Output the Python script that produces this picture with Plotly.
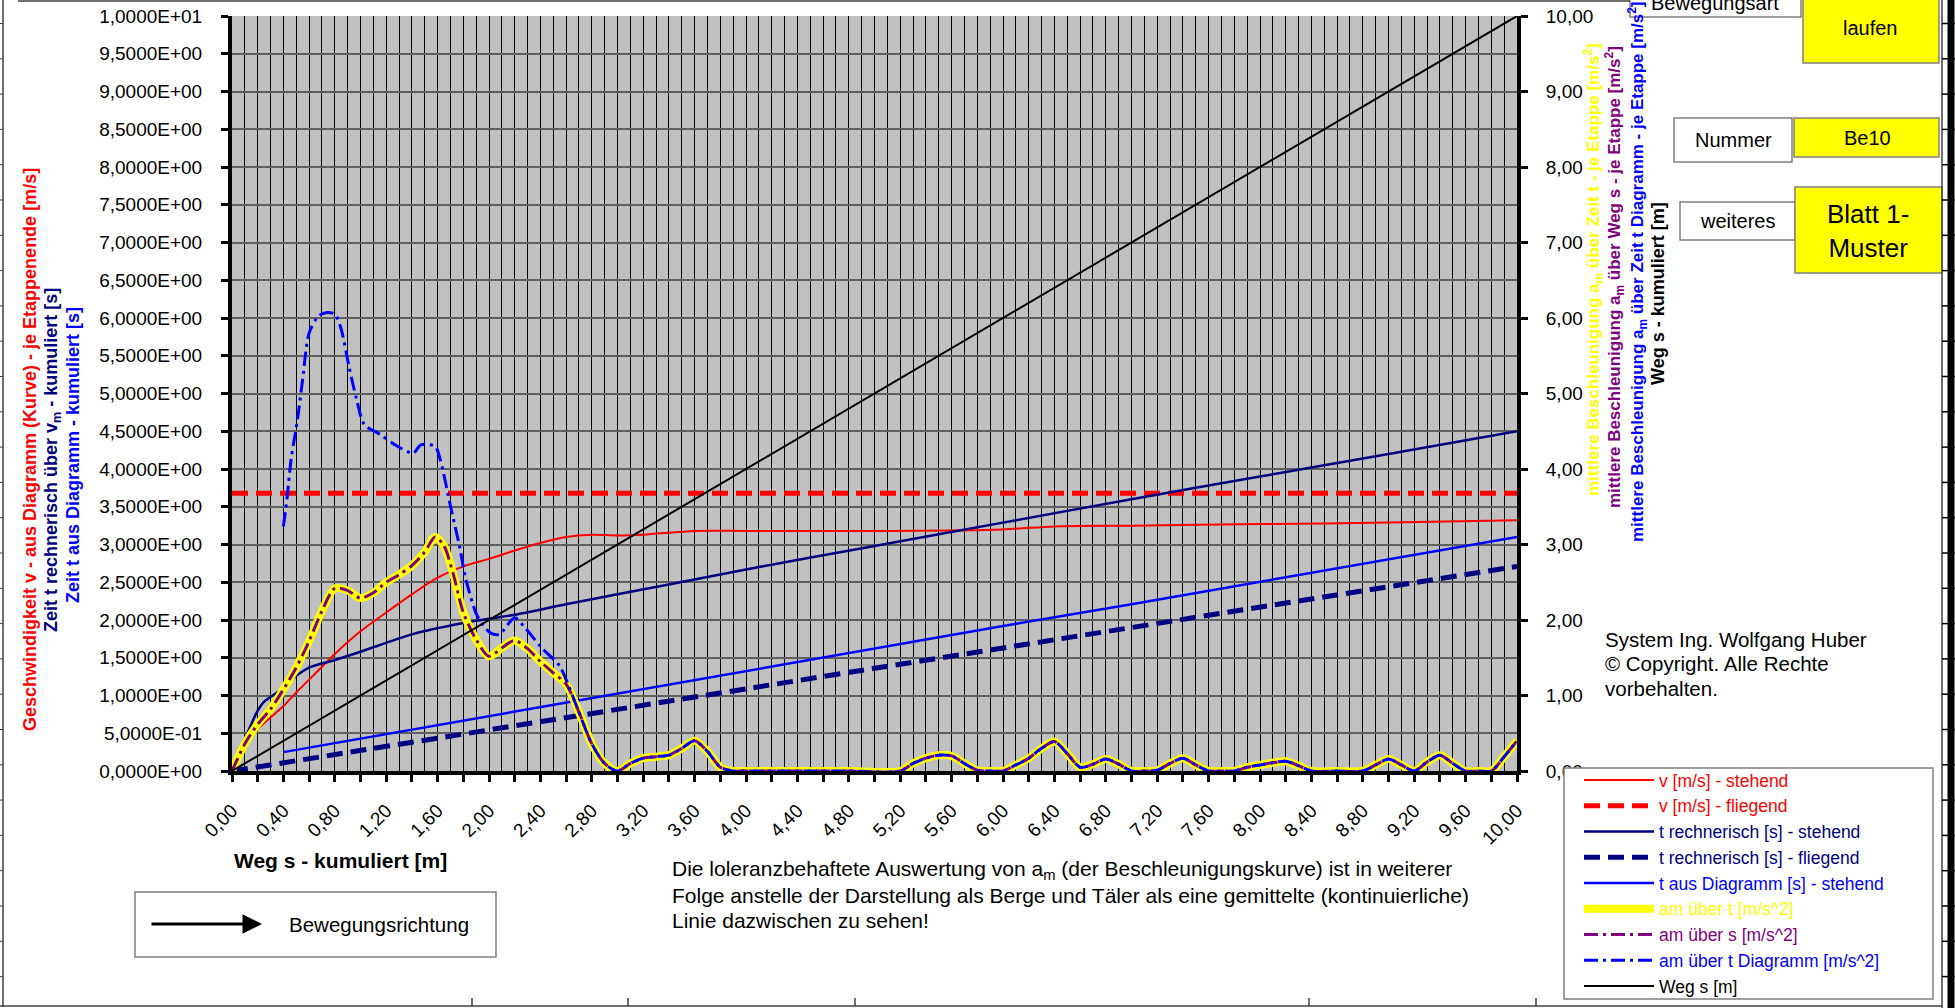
import plotly.graph_objects as go

# ---------------- data ----------------
v_stehend_x = [0, 0.1, 0.2, 0.3, 0.4, 0.5, 0.6, 0.7, 0.8, 1.0, 1.2, 1.4, 1.6, 1.8, 2.0, 2.2, 2.4,
               2.6, 2.8, 3.0, 3.2, 3.6, 4.0, 5.0, 6.0, 6.4, 7.0, 8.0, 9.0, 10.0]
v_stehend_y = [0, 0.40, 0.56, 0.71, 0.86, 1.04, 1.21, 1.38, 1.55, 1.85, 2.10, 2.34, 2.56, 2.71, 2.81,
               2.92, 3.02, 3.10, 3.13, 3.12, 3.13, 3.18, 3.18, 3.18, 3.20, 3.24, 3.25, 3.27, 3.29, 3.32]

v_fliegend_x = [0, 10]
v_fliegend_y = [3.68, 3.68]

t_rech_stehend_x = [0, 0.05, 0.1, 0.15, 0.2, 0.25, 0.3, 0.4, 0.5, 0.6, 0.8, 1.0, 1.4, 1.8, 2.2, 2.6,
                    3.0, 3.4, 4.0, 5.0, 6.0, 7.0, 8.0, 9.0, 10.0]
t_rech_stehend_y = [0, 0.20, 0.42, 0.62, 0.80, 0.92, 0.98, 1.10, 1.26, 1.37, 1.47, 1.58, 1.81, 1.96,
                    2.07, 2.21, 2.34, 2.47, 2.67, 2.98, 3.29, 3.60, 3.90, 4.20, 4.50]

t_rech_fliegend_x = [0, 0.4, 1, 2, 3, 4, 5, 6, 7, 8, 9, 10]
t_rech_fliegend_y = [0, 0.11, 0.27, 0.54, 0.82, 1.09, 1.36, 1.63, 1.90, 2.17, 2.44, 2.71]

t_diag_stehend_x = [0.4, 1, 2, 3, 4, 5, 6, 7, 8, 9, 10]
t_diag_stehend_y = [0.25, 0.43, 0.73, 1.02, 1.32, 1.62, 1.92, 2.21, 2.51, 2.81, 3.10]

am_t_x = [0, 0.1, 0.2, 0.3, 0.4, 0.5, 0.6, 0.7, 0.8, 0.9, 1.0, 1.1, 1.2, 1.3, 1.4, 1.5, 1.58, 1.65,
          1.72, 1.8, 1.9, 2.0, 2.1, 2.2, 2.3, 2.4, 2.5, 2.6, 2.7, 2.8, 2.9, 3.0, 3.1, 3.2, 3.3, 3.4,
          3.5, 3.6, 3.7, 3.8, 3.9, 4.0, 4.4, 4.8, 5.2, 5.3, 5.4, 5.5, 5.6, 5.7, 5.8, 5.9, 6.0, 6.1,
          6.2, 6.3, 6.4, 6.5, 6.6, 6.7, 6.8, 6.9, 7.0, 7.1, 7.2, 7.3, 7.4, 7.5, 7.6, 7.7, 7.8, 7.9,
          8.0, 8.1, 8.2, 8.3, 8.4, 8.6, 8.8, 8.9, 9.0, 9.1, 9.2, 9.3, 9.4, 9.5, 9.6, 9.7, 9.8, 9.9,
          10.0]
am_t_y = [0, 0.36, 0.62, 0.82, 1.08, 1.37, 1.72, 2.12, 2.42, 2.39, 2.29, 2.36, 2.50, 2.60, 2.72,
          2.90, 3.10, 2.98, 2.62, 2.10, 1.74, 1.52, 1.63, 1.73, 1.62, 1.45, 1.30, 1.15, 0.78, 0.36,
          0.10, 0.0, 0.10, 0.17, 0.19, 0.21, 0.30, 0.40, 0.26, 0.05, 0.0, 0.0, 0.0, 0.0, 0.0, 0.10,
          0.17, 0.21, 0.20, 0.10, 0.01, 0.0, 0.0, 0.08, 0.17, 0.30, 0.39, 0.23, 0.05, 0.09, 0.16,
          0.09, 0.0, 0.0, 0.01, 0.10, 0.17, 0.08, 0.0, 0.0, 0.0, 0.05, 0.08, 0.11, 0.13, 0.07, 0.0,
          0.0, 0.0, 0.08, 0.16, 0.08, 0.0, 0.12, 0.21, 0.10, 0.0, 0.0, 0.0, 0.19, 0.40]

am_s_x = list(am_t_x)
am_s_y = list(am_t_y)

am_diag_head_x = [0.4, 0.43, 0.46, 0.51, 0.55, 0.6, 0.67, 0.73, 0.8, 0.85, 0.91, 0.97, 1.03, 1.15,
                  1.27, 1.41, 1.47, 1.58, 1.62, 1.70, 1.77, 1.82, 1.91, 2.01, 2.08, 2.2, 2.27, 2.4,
                  2.55, 2.6]
am_diag_head_y = [3.24, 3.64, 4.13, 4.66, 5.19, 5.80, 6.02, 6.07, 6.05, 5.85, 5.36, 4.92, 4.59, 4.46,
                  4.32, 4.21, 4.32, 4.30, 4.13, 3.51, 2.98, 2.54, 2.05, 1.83, 1.81, 2.03, 1.92, 1.65,
                  1.39, 1.21]
am_diag_x = am_diag_head_x + [x for x in am_t_x if x >= 2.7]
am_diag_y = am_diag_head_y + [y for x, y in zip(am_t_x, am_t_y) if x >= 2.7]

weg_x = [0, 10]
weg_y = [0, 10]

x_tick_labels = ["0,00", "0,40", "0,80", "1,20", "1,60", "2,00", "2,40", "2,80", "3,20", "3,60",
                 "4,00", "4,40", "4,80", "5,20", "5,60", "6,00", "6,40", "6,80", "7,20", "7,60",
                 "8,00", "8,40", "8,80", "9,20", "9,60", "10,00"]
y_left_labels = ["0,0000E+00", "5,0000E-01", "1,0000E+00", "1,5000E+00", "2,0000E+00", "2,5000E+00",
                 "3,0000E+00", "3,5000E+00", "4,0000E+00", "4,5000E+00", "5,0000E+00", "5,5000E+00",
                 "6,0000E+00", "6,5000E+00", "7,0000E+00", "7,5000E+00", "8,0000E+00", "8,5000E+00",
                 "9,0000E+00", "9,5000E+00", "1,0000E+01"]
y_right_labels = ["0,00", "1,00", "2,00", "3,00", "4,00", "5,00", "6,00", "7,00", "8,00", "9,00",
                  "10,00"]

# ---------------- geometry helpers ----------------
W, H = 1955, 1008
L, R, T, B = 232, 1517, 16, 771
PW, PH = R - L, B - T


def fx(px):
    return (px - L) / PW


def fy(py):
    return (B - py) / PH


FONT = "Liberation Sans, Arial, sans-serif"

RED, NAVY, BLUE, YEL, PUR = "#FF0000", "#000080", "#0000FF", "#FFFF00", "#800080"
DASHDOT = "14px,5px,3px,5px"


def nm(t, c):
    return f'<span style="color:{c}">{t}</span>'


fig = go.Figure()
fig.add_trace(go.Scatter(x=v_stehend_x, y=v_stehend_y, mode="lines", name=nm("v [m/s] - stehend", RED),
                         line=dict(color=RED, width=2, shape="spline", smoothing=0.8)))
fig.add_trace(go.Scatter(x=v_fliegend_x, y=v_fliegend_y, mode="lines", name=nm("v [m/s] - fliegend", RED),
                         line=dict(color=RED, width=5, dash="16px,8px")))
fig.add_trace(go.Scatter(x=t_rech_stehend_x, y=t_rech_stehend_y, mode="lines",
                         name=nm("t rechnerisch [s] - stehend", NAVY),
                         line=dict(color=NAVY, width=2.5, shape="spline", smoothing=0.8)))
fig.add_trace(go.Scatter(x=t_rech_fliegend_x, y=t_rech_fliegend_y, mode="lines",
                         name=nm("t rechnerisch [s] - fliegend", NAVY),
                         line=dict(color=NAVY, width=5, dash="16px,8px")))
fig.add_trace(go.Scatter(x=t_diag_stehend_x, y=t_diag_stehend_y, mode="lines",
                         name=nm("t aus Diagramm [s] - stehend", BLUE),
                         line=dict(color=BLUE, width=2.5)))
fig.add_trace(go.Scatter(x=am_t_x, y=am_t_y, mode="lines", name=nm("am über t [m/s^2]", YEL),
                         line=dict(color=YEL, width=8, shape="spline", smoothing=0.8)))
fig.add_trace(go.Scatter(x=am_s_x, y=am_s_y, mode="lines", name=nm("am über s [m/s^2]", PUR),
                         line=dict(color=PUR, width=3, dash=DASHDOT, shape="spline", smoothing=0.8)))
fig.add_trace(go.Scatter(x=am_diag_x, y=am_diag_y, mode="lines",
                         name=nm("am über t Diagramm [m/s^2]", BLUE),
                         line=dict(color=BLUE, width=3, dash=DASHDOT, shape="spline", smoothing=0.8)))
fig.add_trace(go.Scatter(x=weg_x, y=weg_y, mode="lines", name=nm("Weg s [m]", "#000000"),
                         line=dict(color="#000000", width=2)))
# carrier for the right axis
fig.add_trace(go.Scatter(x=[0], y=[0], yaxis="y2", mode="markers", marker=dict(opacity=0),
                         showlegend=False, hoverinfo="skip"))

# ticks every 0.2, labels every 0.4
x_tickvals = [i * 0.2 for i in range(51)]
x_ticktext = []
for i in range(51):
    x_ticktext.append(x_tick_labels[i // 2] if i % 2 == 0 else "")

fig.update_layout(
    width=W, height=H,
    margin=dict(l=L, r=W - R, t=T, b=H - B, pad=0, autoexpand=False),
    paper_bgcolor="white", plot_bgcolor="#C0C0C0",
    font=dict(family=FONT, size=19, color="black"),
    showlegend=True,
    xaxis=dict(range=[0, 10], tickmode="array", tickvals=x_tickvals, ticktext=x_ticktext,
               tickangle=-45, ticks="outside", ticklen=7, tickwidth=3, tickcolor="black",
               showline=True, linewidth=4, linecolor="black", zeroline=False,
               showgrid=True, gridcolor="#000000", gridwidth=1,
               minor=dict(tickmode="linear", tick0=0, dtick=0.1, showgrid=True,
                          gridcolor="#000000", gridwidth=1, ticks=""),
               ticklabelstandoff=10, tickfont=dict(size=19), automargin=False),
    yaxis=dict(range=[0, 10], tickmode="array", tickvals=[i * 0.5 for i in range(21)],
               ticktext=y_left_labels, ticks="outside", ticklen=7, tickwidth=3, tickcolor="black",
               showline=True, linewidth=4, linecolor="black", zeroline=False,
               showgrid=True, gridcolor="#606060", gridwidth=1.5,
               ticklabelstandoff=15, tickfont=dict(size=19), automargin=False),
    yaxis2=dict(range=[0, 10], overlaying="y", side="right", anchor="x", tickmode="array",
                tickvals=list(range(11)), ticktext=y_right_labels, ticks="outside", ticklen=7,
                tickwidth=3, tickcolor="black", showline=True, linewidth=4, linecolor="black",
                showgrid=False, zeroline=False, ticklabelstandoff=14, tickfont=dict(size=19),
                automargin=False),
    legend=dict(x=fx(1579), y=fy(762), xanchor="left", yanchor="top", bgcolor="rgba(0,0,0,0)",
                borderwidth=0, font=dict(family=FONT, size=17.5),
                itemwidth=70, tracegroupgap=0),
)

ann = []


def add_text(px, py, text, size=19, color="black", angle=0, xanchor="center", yanchor="middle",
             align="center"):
    ann.append(dict(x=fx(px), y=fy(py), xref="paper", yref="paper", text=text, showarrow=False,
                    textangle=angle, xanchor=xanchor, yanchor=yanchor, align=align,
                    font=dict(size=size, color=color, family=FONT)))


# left axis titles
add_text(30, 450, "<b>Geschwindigkeit v - aus Diagramm (Kurve) - je Etappenende [m/s]</b>", 18, RED, -90)
add_text(52, 460, "<b>Zeit t rechnerisch über v<sub>m</sub> - kumuliert [s]</b>", 18, NAVY, -90)
add_text(73, 455, "<b>Zeit t aus Diagramm - kumuliert [s]</b>", 18, BLUE, -90)
# right axis titles
add_text(1593, 270, "<b>mittlere Beschleunigung a<sub>m</sub> über Zeit t - je Etappe [m/s<sup>2</sup>]</b>",
         17, YEL, -90)
add_text(1614, 277, "<b>mittlere Beschleunigung a<sub>m</sub> über Weg s - je Etappe [m/s<sup>2</sup>]</b>",
         17, PUR, -90)
add_text(1637, 271,
         "<b>mittlere Beschleunigung a<sub>m</sub> über Zeit t Diagramm - je Etappe [m/s<sup>2</sup>]</b>",
         17, BLUE, -90)
add_text(1658, 294, "<b>Weg s - kumuliert [m]</b>", 18, "black", -90)
# x axis title
add_text(232, 860, "<b>Weg s - kumuliert [m]</b>", 21, "black", xanchor="left")
# note
note_lines = [
    "Die loleranzbehaftete Auswertung von a<sub>m</sub> (der Beschleunigungskurve) ist in weiterer",
    "Folge anstelle der Darstellung als Berge und Täler als eine gemittelte (kontinuierliche)",
    "Linie dazwischen zu sehen!",
]
for k, line in enumerate(note_lines):
    add_text(670, 870 + 25.5 * k, line, 21, "black", xanchor="left", align="left")
# copyright
for k, line in enumerate(["System Ing. Wolfgang Huber", "© Copyright. Alle Rechte", "vorbehalten."]):
    add_text(1603, 639 + 24.5 * k, line, 20.5, "black", xanchor="left", align="left")
# movement box text
add_text(287, 925, "Bewegungsrichtung", 20.5, "black", xanchor="left")
# arrow
ann.append(dict(x=fx(262), y=fy(924), xref="paper", yref="paper", ax=150 - 262, ay=0,
                axref="pixel", ayref="pixel", showarrow=True, arrowhead=2, arrowsize=1.3,
                arrowwidth=3, arrowcolor="black", text=""))
# boxes top right
add_text(1715, 3, "Bewegungsart", 20)
add_text(1871, 28, "laufen", 20)
add_text(1733, 140, "Nummer", 20)
add_text(1867, 138, "Be10", 20)
add_text(1737, 221, "weiteres", 20)
add_text(1868, 231, "Blatt 1-<br>Muster", 26)

shapes = []


def rect(x0, y0, x1, y1, fill="white", line="#808080", lw=1.5, layer="below"):
    shapes.append(dict(type="rect", xref="paper", yref="paper", x0=fx(x0), x1=fx(x1), y0=fy(y0),
                       y1=fy(y1), fillcolor=fill, line=dict(color=line, width=lw), layer=layer))


def seg(x0, y0, x1, y1, color="#404040", lw=1.5):
    shapes.append(dict(type="line", xref="paper", yref="paper", x0=fx(x0), x1=fx(x1), y0=fy(y0),
                       y1=fy(y1), line=dict(color=color, width=lw)))


rect(1630, -30, 1801, 17)
rect(1803, -10, 1939, 63, fill=YEL)
rect(1674, 118, 1792, 162)
rect(1794, 118, 1939, 157, fill=YEL)
rect(1680, 202, 1795, 240)
rect(1795, 187, 1942, 273, fill=YEL)
rect(135, 892, 496, 957)
# legend frame
rect(1564, 768, 1933, 999, fill="white", line="#808080", lw=1.5, layer="above")

# sheet frame lines
seg(3, 0, 3, 1007)
seg(18, 1, 1630, 1)
seg(0, 1006, 1942, 1006)
seg(1942, 0, 1942, 1008)
seg(1951, 0, 1951, 1008, color="black", lw=7)
for k in range(29):
    yy = 23.5 + 35.3 * k
    seg(0, yy, 3, yy, lw=1)
    seg(1942, yy, 1955, yy, color="black", lw=1.5)
for xx in [472, 628, 855, 1309, 1536]:
    seg(xx, 998, xx, 1006, lw=1.5)

fig.update_layout(annotations=ann, shapes=shapes)

fig.write_html("out.html", config={"displayModeBar": False},
               post_script="document.body.style.margin='0';document.body.style.overflow='hidden';")
